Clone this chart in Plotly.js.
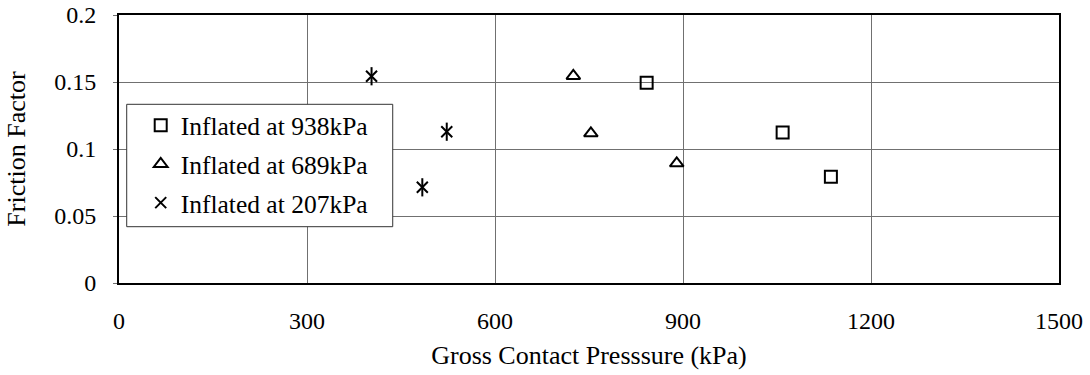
<!DOCTYPE html>
<html>
<head>
<meta charset="utf-8">
<script src="https://cdn.plot.ly/plotly-3.0.1.min.js"></script>
<style>html,body{margin:0;padding:0;background:#fff;}#chart{width:1090px;height:375px;}</style>
</head>
<body>
<div id="chart"></div>
<script>
// Data
const p938_x = [842, 1059, 1136];
const p938_y = [0.1495, 0.1124, 0.0793];
const p689_x = [725, 753, 890];
const p689_y = [0.1545, 0.1117, 0.0893];
const p207_x = [403, 523, 484];
const p207_y = [0.1543, 0.1129, 0.0714];
const seriesNames = ['Inflated at 938kPa', 'Inflated at 689kPa', 'Inflated at 207kPa'];
const xTicks = [0, 300, 600, 900, 1200, 1500];
const yTicks = [0, 0.05, 0.1, 0.15, 0.2];
const yTickText = ['0', '0.05', '0.1', '0.15', '0.2'];

const FONT = 'Liberation Serif, Times New Roman, serif';
const mk = (symbol, size) => ({symbol: symbol, size: size, color: '#000', line: {color: '#000', width: 2}});

const traces = [
  {x: p938_x, y: p938_y, name: seriesNames[0], type: 'scatter', mode: 'markers', legendgroup: 'a', marker: mk('square-open', 12)},
  {x: p689_x, y: p689_y, name: seriesNames[1], type: 'scatter', mode: 'markers', legendgroup: 'b', marker: mk('triangle-up-open', 12)},
  {x: p207_x, y: p207_y, name: seriesNames[2], type: 'scatter', mode: 'markers', legendgroup: 'c', marker: mk('x-thin-open', 11)},
  {x: p207_x, y: p207_y, name: seriesNames[2], type: 'scatter', mode: 'markers', legendgroup: 'c', showlegend: false, marker: mk('line-ns-open', 13)}
];

const layout = {
  width: 1090, height: 375,
  margin: {l: 119, r: 31, t: 15, b: 92, pad: 0},
  paper_bgcolor: '#fff', plot_bgcolor: '#fff',
  font: {family: FONT, size: 24, color: '#000'},
  showlegend: true,
  legend: {
    x: 0.0082, y: 0.6745, xanchor: 'left', yanchor: 'top',
    bgcolor: 'rgba(0,0,0,0)', borderwidth: 0,
    font: {family: FONT, size: 25.5, color: '#000'},
    traceorder: 'grouped', tracegroupgap: 2.5, indentation: 14
  },
  shapes: [{
    type: 'rect', xref: 'paper', yref: 'paper',
    x0: 0.0082, x1: 0.2912, y0: 0.2101, y1: 0.6668,
    fillcolor: '#fff', line: {color: '#333', width: 1}, layer: 'above'
  }],
  xaxis: {
    range: [0, 1500], tickvals: xTicks, ticktext: xTicks.map(String),
    showgrid: true, gridcolor: '#707070', gridwidth: 1,
    zeroline: false, showline: true, linecolor: '#000', linewidth: 2, mirror: true,
    ticks: 'inside', ticklen: 4, tickcolor: '#707070',
    ticklabelstandoff: 15,
    tickfont: {family: FONT, size: 24, color: '#000'},
    title: {text: 'Gross Contact Presssure (kPa)', font: {family: FONT, size: 26, color: '#000'}, standoff: 13},
    automargin: false, fixedrange: true
  },
  yaxis: {
    range: [0, 0.2], tickvals: yTicks, ticktext: yTickText,
    showgrid: true, gridcolor: '#707070', gridwidth: 1,
    zeroline: false, showline: true, linecolor: '#000', linewidth: 2, mirror: true,
    ticks: 'outside', ticklen: 4, tickcolor: '#707070',
    ticklabelstandoff: 12,
    tickfont: {family: FONT, size: 24, color: '#000'},
    title: {text: 'Friction Factor', font: {family: FONT, size: 26, color: '#000'}, standoff: 21},
    automargin: false, fixedrange: true
  }
};

Plotly.newPlot('chart', traces, layout, {displayModeBar: false, staticPlot: true});
</script>
</body>
</html>
